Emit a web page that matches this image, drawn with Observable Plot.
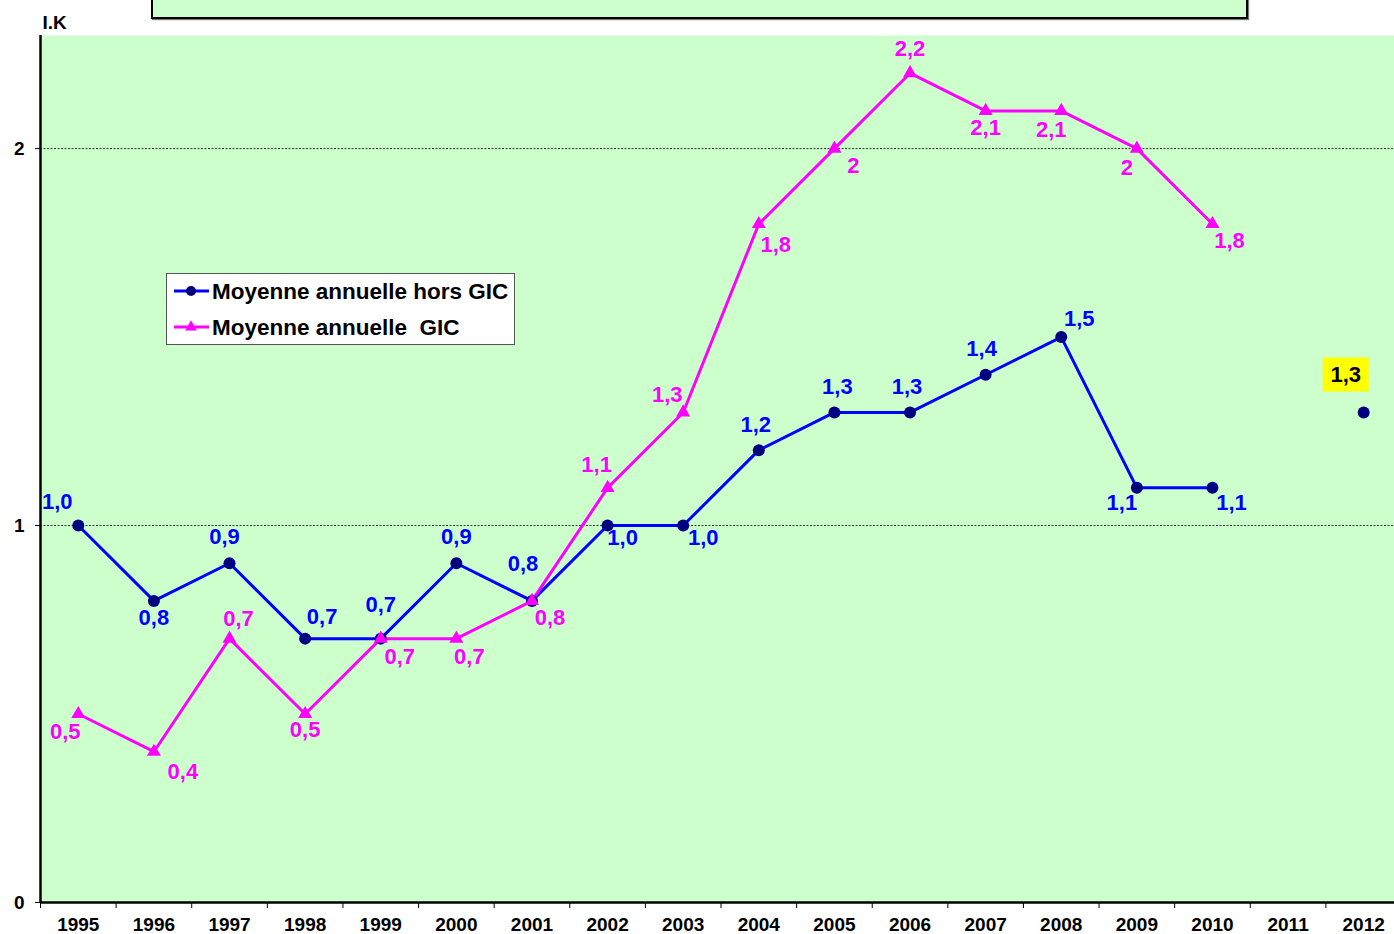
<!DOCTYPE html>
<html><head><meta charset="utf-8">
<script src="https://cdn.jsdelivr.net/npm/d3@7"></script>
<script src="https://cdn.jsdelivr.net/npm/@observablehq/plot@0.6"></script>
<style>
body{margin:0;background:#fff;font-family:"Liberation Sans",Arial,sans-serif;}
#wrap{position:relative;width:1394px;height:934px;overflow:hidden;}
#topbox{position:absolute;left:151px;top:-4px;width:1093px;height:19px;background:#ccffcc;border:2px solid #000;box-shadow:1px 1px 1px #777;}
#legend{position:absolute;left:166px;top:273px;width:349px;height:72px;background:#fff;border:1px solid #555;box-sizing:border-box;}
#legend svg{display:block;}
</style></head>
<body>
<div id="wrap"><div id="chart"></div><div id="topbox"></div><div id="legend"></div></div>
<script>
const years = [1995,1996,1997,1998,1999,2000,2001,2002,2003,2004,2005,2006,2007,2008,2009,2010,2011,2012];
const horsGIC = [1.0,0.8,0.9,0.7,0.7,0.9,0.8,1.0,1.0,1.2,1.3,1.3,1.4,1.5,1.1,1.1,null,1.3];
const GIC = [0.5,0.4,0.7,0.5,0.7,0.7,0.8,1.1,1.3,1.8,2.0,2.2,2.1,2.1,2.0,1.8,null,null];
const yTicks = [0,1,2];
const seriesNames = ["Moyenne annuelle hors GIC","Moyenne annuelle  GIC"];
const yAxisTitle = "I.K";
const highlightYear = 2012;
// label placement offsets (px) relative to each point
const blueOffsets = [[-21,-24],[0,17],[-5,-26],[17,-22],[0,-34],[0,-26],[-9,-37],[15,12],[20,12],[-3,-25],[3,-26],[-3,-26],[-4,-26],[18,-18],[-15,15],[19,15]];
const pinkOffsets = [[-13,18],[29,20],[9,-20],[0,16],[19,18],[13,18],[18,17],[-11,-23],[-16,-18],[17,21],[19,17],[0,-24],[0,17],[-10,19],[-10,19],[17,17]];

const BLUE = "#0000ff", NAVY = "#000080", PINK = "#ff00ff";
const FONT = "'Liberation Sans', Arial, sans-serif";

const blueData = years.map((y,i)=>({year:y, v:horsGIC[i]}));
const pinkData = years.map((y,i)=>({year:y, v:GIC[i]}));
const boundaries = years.map(y=>y-0.5).concat([years[years.length-1]+0.5]);

const fmtBlue = v => d3.format(".1f")(v).replace(".", ",");
const fmtPink = v => String(v).replace(".", ",");

const labelMarks = [];
blueData.forEach((d,i)=>{
  if (d.v == null || d.year === highlightYear || !blueOffsets[i]) return;
  labelMarks.push(Plot.text([d], {x:"year", y:"v", text: e=>fmtBlue(e.v), dx:blueOffsets[i][0], dy:blueOffsets[i][1], fill:BLUE, fontSize:22, fontWeight:"bold"}));
});
pinkData.forEach((d,i)=>{
  if (d.v == null || !pinkOffsets[i]) return;
  labelMarks.push(Plot.text([d], {x:"year", y:"v", text: e=>fmtPink(e.v), dx:pinkOffsets[i][0], dy:pinkOffsets[i][1], fill:PINK, fontSize:22, fontWeight:"bold"}));
});

const boxSymbol = {draw(ctx){ ctx.rect(-23,-17,46,34); }};
const hl = blueData.filter(d=>d.year===highlightYear);

const chart = Plot.plot({
  width:1394, height:934,
  marginLeft:40, marginRight:0, marginTop:35, marginBottom:32,
  style:{fontFamily:FONT, fontSize:"19px", fontWeight:"bold", color:"#000", background:"transparent"},
  x:{type:"linear", domain:[boundaries[0], boundaries[boundaries.length-1]], range:[40,1401], ticks:boundaries, tickFormat:()=>"", tickSize:6, label:null},
  y:{domain:[0,2.3], ticks:yTicks, tickSize:5, tickPadding:11, tickFormat:d=>String(d), label:null},
  marks:[
    Plot.frame({fill:"#ccffcc", stroke:"none"}),
    Plot.ruleY([1,2], {stroke:"#000", strokeWidth:0.8, strokeDasharray:"2,1.5"}),
    Plot.ruleX([boundaries[0]], {stroke:"#000", strokeWidth:2.5}),
    Plot.ruleY([0], {stroke:"#000", strokeWidth:2.5}),
    Plot.line(blueData, {x:"year", y:"v", stroke:BLUE, strokeWidth:3}),
    Plot.line(pinkData, {x:"year", y:"v", stroke:PINK, strokeWidth:3}),
    Plot.dot(blueData.filter(d=>d.v!=null), {x:"year", y:"v", r:6, fill:NAVY, stroke:"none"}),
    Plot.dot(pinkData.filter(d=>d.v!=null), {x:"year", y:"v", symbol:"triangle", r:5.2, fill:PINK, stroke:"none"}),
    ...labelMarks,
    Plot.dot(hl, {x:"year", y:"v", symbol:boxSymbol, fill:"#ffff00", stroke:"none", dx:-18, dy:-38}),
    Plot.text(hl, {x:"year", y:"v", text:d=>fmtBlue(d.v), dx:-18, dy:-38, fill:"#000", fontSize:22, fontWeight:"bold"}),
    Plot.text(years, {x:d=>d, frameAnchor:"bottom", lineAnchor:"middle", dy:22, text:d=>String(d), fontSize:19, fontWeight:"bold", fill:"#000"}),
    Plot.text([yAxisTitle], {frameAnchor:"top-left", lineAnchor:"middle", dx:2, dy:-13, textAnchor:"start", fontSize:19, fontWeight:"bold", fill:"#000"})
  ]
});
document.getElementById("chart").appendChild(chart);

// legend
const lg = d3.select("#legend").append("svg").attr("width",347).attr("height",70);
const rows = [{name:seriesNames[0], color:BLUE, mark:"dot"},{name:seriesNames[1], color:PINK, mark:"tri"}];
rows.forEach((r,i)=>{
  const cy = 17 + i*36;
  lg.append("line").attr("x1",7).attr("x2",42).attr("y1",cy).attr("y2",cy).attr("stroke",r.color).attr("stroke-width",3);
  if (r.mark==="dot") lg.append("circle").attr("cx",24).attr("cy",cy).attr("r",5).attr("fill",NAVY);
  else lg.append("path").attr("d", d3.symbol(d3.symbolTriangle, 60)()).attr("transform",`translate(24,${cy})`).attr("fill",PINK);
  lg.append("text").attr("x",45).attr("y",cy).attr("dy","0.35em").style("white-space","pre").attr("font-family",FONT).attr("font-weight","bold").attr("font-size",22.5).attr("fill","#000").text(r.name);
});
</script>
</body></html>
